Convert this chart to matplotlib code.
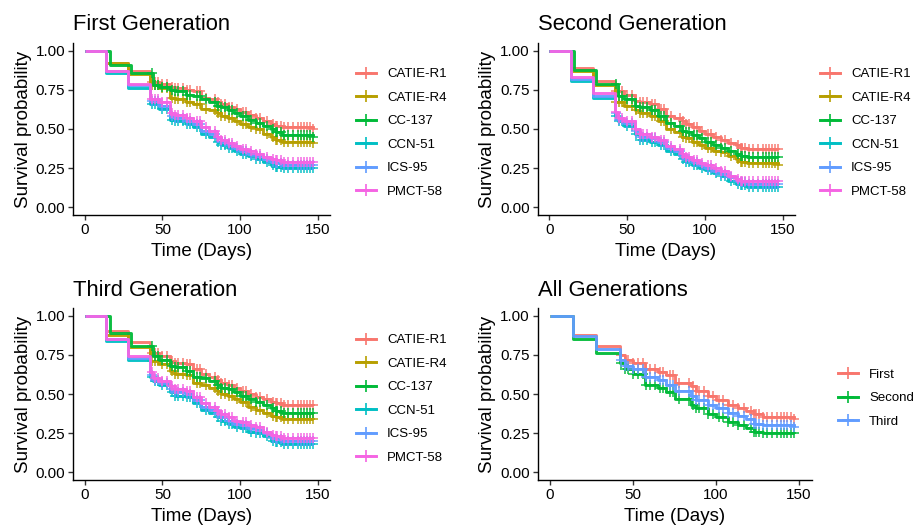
import numpy as np
import matplotlib
matplotlib.use("Agg")
import matplotlib.pyplot as plt
from matplotlib.lines import Line2D

plt.rcParams['font.family'] = ['Liberation Sans', 'DejaVu Sans']

# ---------------- data ----------------
clones = ["CATIE-R1", "CATIE-R4", "CC-137", "CCN-51", "ICS-95", "PMCT-58"]
generations = ["First", "Second", "Third"]
clone_colors = ["#F8766D", "#B79F00", "#00BA38", "#00BFC4", "#619CFF", "#F564E3"]
gen_colors = ["#F8766D", "#00BA38", "#619CFF"]

times_gen = [0, 14, 16, 28, 30, 42, 44, 48, 55, 58, 65, 70, 75, 80, 85, 88, 92, 96,
             100, 105, 110, 115, 120, 123, 127, 147]

first_surv = {
    "CATIE-R1": [1.00, 0.92, 0.92, 0.87, 0.87, 0.80, 0.80, 0.79, 0.77, 0.76, 0.75, 0.74, 0.70,
                 0.69, 0.67, 0.66, 0.64, 0.63, 0.61, 0.59, 0.57, 0.55, 0.53, 0.52, 0.51, 0.50],
    "CATIE-R4": [1.00, 0.92, 0.92, 0.85, 0.85, 0.78, 0.78, 0.76, 0.70, 0.69, 0.67, 0.66, 0.63,
                 0.62, 0.60, 0.58, 0.57, 0.55, 0.53, 0.51, 0.50, 0.47, 0.45, 0.43, 0.42, 0.41],
    "CC-137":   [1.00, 1.00, 0.91, 0.91, 0.86, 0.86, 0.78, 0.77, 0.75, 0.74, 0.72, 0.71, 0.69,
                 0.67, 0.65, 0.64, 0.62, 0.60, 0.58, 0.56, 0.54, 0.52, 0.50, 0.48, 0.46, 0.45],
    "CCN-51":   [1.00, 0.86, 0.86, 0.76, 0.76, 0.66, 0.66, 0.63, 0.56, 0.55, 0.53, 0.51, 0.47,
                 0.45, 0.42, 0.40, 0.38, 0.36, 0.34, 0.33, 0.31, 0.29, 0.27, 0.26, 0.25, 0.25],
    "ICS-95":   [1.00, 0.87, 0.87, 0.78, 0.78, 0.68, 0.68, 0.65, 0.58, 0.57, 0.55, 0.53, 0.49,
                 0.47, 0.44, 0.42, 0.40, 0.38, 0.36, 0.34, 0.33, 0.31, 0.29, 0.28, 0.27, 0.27],
    "PMCT-58":  [1.00, 0.87, 0.87, 0.79, 0.79, 0.69, 0.69, 0.67, 0.60, 0.59, 0.57, 0.55, 0.51,
                 0.49, 0.45, 0.43, 0.41, 0.39, 0.37, 0.36, 0.34, 0.32, 0.31, 0.30, 0.29, 0.29],
}

second_surv = {
    "CATIE-R1": [1.00, 0.89, 0.89, 0.81, 0.81, 0.74, 0.74, 0.72, 0.68, 0.67, 0.66, 0.63, 0.58,
                 0.57, 0.55, 0.53, 0.51, 0.49, 0.47, 0.45, 0.43, 0.41, 0.40, 0.38, 0.37, 0.37],
    "CATIE-R4": [1.00, 0.87, 0.87, 0.78, 0.78, 0.67, 0.67, 0.65, 0.62, 0.60, 0.58, 0.55, 0.50,
                 0.48, 0.45, 0.44, 0.42, 0.40, 0.38, 0.36, 0.35, 0.33, 0.31, 0.29, 0.28, 0.27],
    "CC-137":   [1.00, 1.00, 0.88, 0.88, 0.79, 0.79, 0.71, 0.69, 0.65, 0.64, 0.62, 0.58, 0.54,
                 0.52, 0.49, 0.48, 0.46, 0.44, 0.42, 0.40, 0.38, 0.36, 0.34, 0.33, 0.32, 0.32],
    "CCN-51":   [1.00, 0.81, 0.81, 0.70, 0.70, 0.58, 0.55, 0.52, 0.47, 0.43, 0.42, 0.40, 0.36,
                 0.34, 0.31, 0.29, 0.27, 0.25, 0.24, 0.22, 0.20, 0.17, 0.15, 0.14, 0.13, 0.13],
    "ICS-95":   [1.00, 0.82, 0.82, 0.71, 0.71, 0.60, 0.56, 0.54, 0.49, 0.45, 0.44, 0.42, 0.38,
                 0.36, 0.33, 0.31, 0.29, 0.27, 0.25, 0.23, 0.21, 0.19, 0.17, 0.16, 0.15, 0.15],
    "PMCT-58":  [1.00, 0.83, 0.83, 0.73, 0.73, 0.61, 0.57, 0.55, 0.50, 0.47, 0.45, 0.43, 0.39,
                 0.37, 0.34, 0.32, 0.30, 0.28, 0.27, 0.25, 0.23, 0.20, 0.18, 0.17, 0.17, 0.17],
}

third_surv = {
    "CATIE-R1": [1.00, 0.90, 0.90, 0.83, 0.83, 0.76, 0.76, 0.74, 0.71, 0.70, 0.69, 0.66, 0.63,
                 0.61, 0.59, 0.57, 0.56, 0.54, 0.52, 0.50, 0.48, 0.47, 0.45, 0.44, 0.43, 0.43],
    "CATIE-R4": [1.00, 0.88, 0.88, 0.80, 0.80, 0.71, 0.71, 0.69, 0.65, 0.63, 0.62, 0.57, 0.56,
                 0.54, 0.52, 0.50, 0.49, 0.47, 0.45, 0.42, 0.40, 0.38, 0.36, 0.35, 0.34, 0.34],
    "CC-137":   [1.00, 1.00, 0.89, 0.89, 0.81, 0.81, 0.74, 0.72, 0.68, 0.67, 0.65, 0.61, 0.60,
                 0.58, 0.56, 0.54, 0.53, 0.51, 0.49, 0.47, 0.45, 0.43, 0.41, 0.39, 0.38, 0.38],
    "CCN-51":   [1.00, 0.84, 0.84, 0.72, 0.72, 0.61, 0.58, 0.56, 0.51, 0.49, 0.48, 0.44, 0.40,
                 0.38, 0.35, 0.33, 0.31, 0.29, 0.28, 0.26, 0.25, 0.23, 0.20, 0.19, 0.18, 0.18],
    "ICS-95":   [1.00, 0.85, 0.85, 0.73, 0.73, 0.62, 0.59, 0.57, 0.53, 0.51, 0.50, 0.46, 0.42,
                 0.40, 0.37, 0.35, 0.33, 0.31, 0.30, 0.28, 0.27, 0.25, 0.22, 0.21, 0.20, 0.20],
    "PMCT-58":  [1.00, 0.85, 0.85, 0.74, 0.74, 0.64, 0.60, 0.58, 0.55, 0.53, 0.52, 0.48, 0.44,
                 0.42, 0.39, 0.37, 0.35, 0.33, 0.32, 0.30, 0.29, 0.26, 0.24, 0.23, 0.22, 0.22],
}

times_all = [0, 14, 28, 42, 45, 50, 57, 65, 70, 75, 85, 88, 95, 100, 107, 113, 118, 123, 128, 147]
all_surv = {
    "First":  [1.00, 0.88, 0.81, 0.75, 0.72, 0.70, 0.66, 0.64, 0.62, 0.57, 0.55, 0.52, 0.49,
               0.46, 0.43, 0.41, 0.39, 0.37, 0.35, 0.34],
    "Second": [1.00, 0.85, 0.76, 0.70, 0.66, 0.63, 0.56, 0.54, 0.51, 0.47, 0.43, 0.41, 0.37,
               0.35, 0.32, 0.30, 0.28, 0.26, 0.25, 0.25],
    "Third":  [1.00, 0.87, 0.79, 0.72, 0.68, 0.66, 0.61, 0.59, 0.56, 0.52, 0.49, 0.46, 0.43,
               0.41, 0.38, 0.36, 0.34, 0.31, 0.30, 0.29],
}

censor_times = [43, 45, 47, 50, 53, 56, 58, 60, 63, 66, 68, 72, 74, 78, 84, 86, 88, 90, 93,
                95, 98, 102, 104, 107, 110, 113, 117, 121, 123, 124, 126, 128, 131, 134,
                137, 139, 141, 143, 145, 147]

titles = ["First Generation", "Second Generation", "Third Generation", "All Generations"]
x_ticks = [0, 50, 100, 150]
y_ticks = [0.00, 0.25, 0.50, 0.75, 1.00]

# ---------------- figure ----------------
W, H = 914, 526
fig = plt.figure(figsize=(W / 100, H / 100), dpi=100)


def px_axes(left, top, right, bottom):
    return fig.add_axes([left / W, 1 - bottom / H, (right - left) / W, (bottom - top) / H])


panels = [
    dict(box=(73, 43, 329.5, 215), times=times_gen, surv=first_surv, names=clones,
         colors=clone_colors, leg=(356, 133)),
    dict(box=(537.5, 43, 794.5, 215), times=times_gen, surv=second_surv, names=clones,
         colors=clone_colors, leg=(820, 133)),
    dict(box=(73, 308, 329.5, 480), times=times_gen, surv=third_surv, names=clones,
         colors=clone_colors, leg=(356, 399)),
    dict(box=(537.5, 308, 811.5, 480), times=times_all, surv=all_surv, names=generations,
         colors=gen_colors, leg=(838, 398)),
]

for i, p in enumerate(panels):
    ax = px_axes(*p["box"])
    t = np.array(p["times"])
    handles = []
    for name, col in zip(p["names"], p["colors"]):
        s = np.array(p["surv"][name])
        ax.step(t, s, where="post", color=col, lw=2.1, solid_capstyle="butt", alpha=0.95)
        ct = np.array(censor_times)
        idx = np.searchsorted(t, ct, side="right") - 1
        ax.plot(ct, s[idx], ls="none", marker="+", ms=7, mew=1.1, color=col, alpha=0.95)
        handles.append(Line2D([], [], color=col, lw=2.1, marker="+", ms=8, mew=1.2))
    ax.set_xlim(-7.5, 157.5)
    ax.set_ylim(-0.05, 1.05)
    ax.set_xticks(x_ticks)
    ax.set_xticklabels([str(v) for v in x_ticks])
    ax.set_yticks(y_ticks)
    ax.set_yticklabels([f"{v:.2f}" for v in y_ticks])
    for sp in ["top", "right"]:
        ax.spines[sp].set_visible(False)
    for sp in ["left", "bottom"]:
        ax.spines[sp].set_linewidth(1.0)
        ax.spines[sp].set_color("black")
    ax.tick_params(axis="both", length=3.5, width=1.0, color="#333333",
                   labelsize=11, labelcolor="black", pad=2)
    ax.set_xlabel("Time (Days)", fontsize=13.5, labelpad=4.5)
    ax.set_ylabel("Survival probability", fontsize=13.5, labelpad=3)
    ax.set_title(titles[i], loc="left", fontsize=15.8, pad=9)
    lx, ly = p["leg"]
    fig.legend(handles=handles, labels=p["names"], loc="center left",
               bbox_to_anchor=(lx / W, 1 - ly / H), frameon=False, fontsize=9.5,
               borderpad=0, borderaxespad=0, handlelength=1.5, handletextpad=0.85,
               labelspacing=0.85)

fig.savefig("out.png", dpi=100)
